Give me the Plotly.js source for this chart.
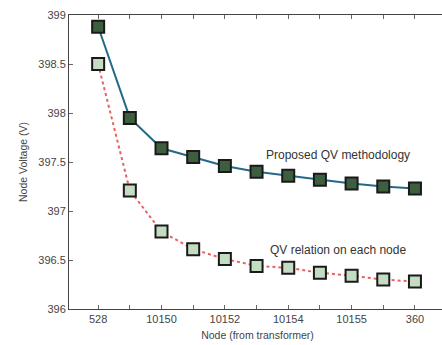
<!DOCTYPE html>
<html>
<head>
<meta charset="utf-8">
<script src="https://cdn.plot.ly/plotly-3.0.1.min.js"></script>
<style>html,body{margin:0;padding:0;background:#fff;overflow:hidden}#chart{width:446px;height:345px}</style>
</head>
<body>
<div id="chart"></div>
<script>
// Node sequence along the feeder, starting at the transformer
const nodes = ['528', '10149', '10150', '10151', '10152', '10153', '10154', '10157', '10155', '10156', '360'];
const labelledNodes = ['528', '', '10150', '', '10152', '', '10154', '', '10155', '', '360'];
// Node voltages (V)
const proposedQV = [398.88, 397.95, 397.64, 397.55, 397.46, 397.40, 397.36, 397.32, 397.28, 397.25, 397.23];
const qvPerNode = [398.50, 397.21, 396.79, 396.61, 396.51, 396.44, 396.42, 396.37, 396.34, 396.30, 396.28];
const yTicks = [396, 396.5, 397, 397.5, 398, 398.5, 399];

const idx = nodes.map((_, i) => i);

const traces = [
  {
    x: idx, y: qvPerNode, name: 'QV relation on each node', type: 'scatter', mode: 'lines+markers',
    line: {color: '#e8605f', width: 2, dash: 'dot'},
    marker: {symbol: 'square', size: 12, color: '#c4dcc2', line: {color: '#1a1a1a', width: 2}}
  },
  {
    x: idx, y: proposedQV, name: 'Proposed QV methodology', type: 'scatter', mode: 'lines+markers',
    line: {color: '#226a88', width: 2},
    marker: {symbol: 'square', size: 12, color: '#3d5e3f', line: {color: '#1a1a1a', width: 2}}
  }
];

const fam = 'Liberation Sans, Arial, sans-serif';
const tickFont = {family: fam, size: 11, color: '#444'};
const titleFont = {family: fam, size: 10.5, color: '#444'};
const noteFont = {family: fam, size: 12, color: '#333'};

const layout = {
  width: 446, height: 345,
  margin: {l: 69, r: 0, t: 15, b: 36},
  paper_bgcolor: '#fff', plot_bgcolor: '#fff',
  showlegend: false,
  font: tickFont,
  xaxis: {
    range: [-0.92, 10.98],
    tickvals: idx, ticktext: labelledNodes,
    ticks: 'inside', ticklen: 4, tickcolor: '#666',
    showline: true, linecolor: '#444', linewidth: 1, mirror: 'ticks',
    showgrid: false, zeroline: false,
    tickfont: tickFont,
    title: {text: 'Node (from transformer)', font: titleFont, standoff: 7}
  },
  yaxis: {
    range: [396, 399],
    tickvals: yTicks, ticktext: yTicks.map(String),
    ticks: 'inside', ticklen: 4, tickcolor: '#666',
    showline: true, linecolor: '#444', linewidth: 1, mirror: 'ticks',
    showgrid: false, zeroline: false,
    tickfont: tickFont,
    title: {text: 'Node Voltage (V)', font: titleFont, standoff: 8}
  },
  annotations: [
    {x: 7.57, y: 397.57, xref: 'x', yref: 'y', text: 'Proposed QV methodology', showarrow: false, font: noteFont},
    {x: 7.57, y: 396.6, xref: 'x', yref: 'y', text: 'QV relation on each node', showarrow: false, font: noteFont}
  ]
};

Plotly.newPlot('chart', traces, layout, {displayModeBar: false, staticPlot: true});
</script>
</body>
</html>
